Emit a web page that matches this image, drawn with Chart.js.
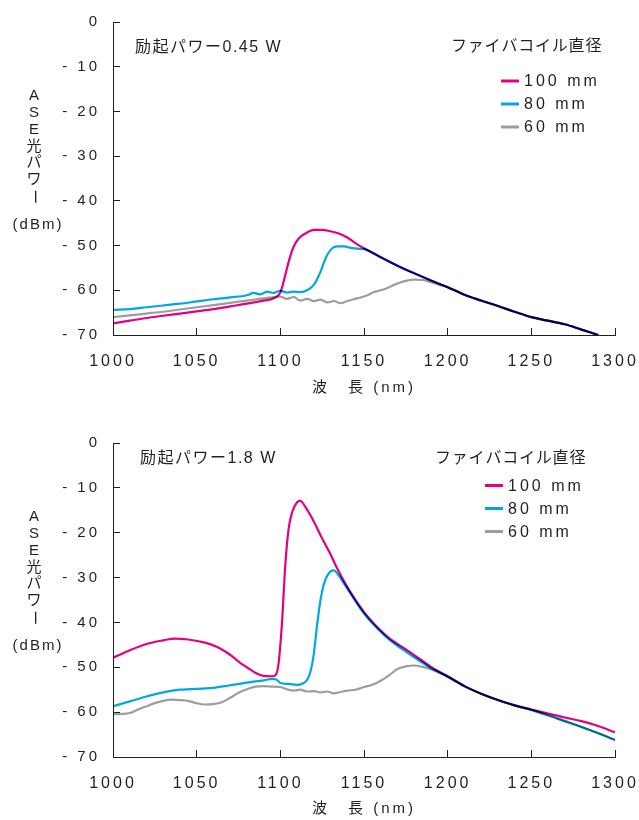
<!DOCTYPE html>
<html>
<head>
<meta charset="utf-8">
<script src="https://cdn.jsdelivr.net/npm/chart.js@4/dist/chart.umd.min.js"></script>
<style>
  html, body { margin: 0; padding: 0; background: #fff; overflow: hidden; }
  canvas { position: absolute; left: 0; }
  #chartTop { top: 0; }
  #chartBottom { top: 421px; }
</style>
</head>
<body>
<canvas id="chartTop" width="639" height="400"></canvas>
<canvas id="chartBottom" width="639" height="399"></canvas>
<script>
// Series names and colours
const seriesLabels = ['100 mm', '80 mm', '60 mm']
const seriesColors = ['#e5007f', '#00a6e6', '#9d9d9d']

// Pump power 0.45 W
const wlTop100 = [1000,1010,1020,1030,1040,1050,1060,1070,1080,1090,1096,1100,1102,1104,1106,1108,1111,1115,1120,1125,1130,1135,1140,1145,1150,1160,1170,1180,1190,1200,1210,1220,1230,1240,1250,1260,1270,1280,1290]
const dbTop100 = [-67.4,-66.8,-66.2,-65.7,-65.2,-64.7,-64.2,-63.6,-63.0,-62.3,-61.8,-60.5,-58.0,-55.0,-52.3,-50.2,-48.4,-47.3,-46.5,-46.5,-46.8,-47.3,-48.2,-49.5,-50.6,-52.6,-54.5,-56.2,-57.8,-59.3,-61.0,-62.3,-63.5,-64.8,-66.0,-66.8,-67.6,-68.8,-70.0]
const wlTop80 = [1000,1010,1020,1030,1040,1050,1060,1070,1080,1084,1088,1092,1096,1100,1104,1108,1112,1116,1120,1122,1124,1126,1128,1131,1134,1138,1142,1146,1150,1160,1170,1180,1190,1200,1210,1220,1230,1240,1250,1260,1270,1280,1290]
const dbTop80 = [-64.4,-64.2,-63.8,-63.4,-63.0,-62.5,-62.0,-61.6,-61.1,-60.6,-60.9,-60.3,-60.6,-60.1,-60.5,-60.3,-60.4,-60.0,-58.8,-57.5,-55.9,-53.8,-52.1,-50.6,-50.2,-50.2,-50.5,-50.7,-50.8,-52.6,-54.5,-56.2,-57.8,-59.3,-61.0,-62.3,-63.5,-64.8,-66.0,-66.8,-67.6,-68.8,-70.0]
const wlTop60 = [1000,1010,1020,1030,1040,1050,1060,1070,1080,1090,1100,1104,1108,1112,1116,1120,1124,1128,1132,1136,1140,1144,1148,1152,1156,1160,1165,1170,1175,1180,1185,1190,1195,1200,1210,1220,1230,1240,1250,1260,1270,1280,1290]
const dbTop60 = [-66.0,-65.6,-65.2,-64.8,-64.3,-63.8,-63.3,-62.8,-62.3,-61.8,-61.4,-61.9,-61.5,-62.3,-61.9,-62.4,-62.1,-62.7,-62.4,-62.9,-62.4,-62.0,-61.6,-61.1,-60.4,-60.0,-59.3,-58.5,-57.9,-57.6,-57.7,-58.2,-58.8,-59.3,-61.0,-62.3,-63.5,-64.8,-66.0,-66.8,-67.6,-68.8,-70.0]

// Pump power 1.8 W
const wlBot100 = [1000,1010,1020,1030,1037,1045,1055,1062,1068,1072,1076,1080,1085,1090,1095,1097,1099,1101,1103,1105,1107,1110,1112,1115,1120,1125,1130,1134,1138,1142,1146,1150,1155,1160,1165,1170,1175,1180,1185,1190,1195,1200,1210,1220,1230,1240,1250,1260,1270,1280,1290,1300]
const dbBot100 = [-47.9,-46.2,-44.8,-44.0,-43.6,-43.8,-44.5,-45.4,-46.7,-47.8,-49.0,-50.0,-51.2,-51.9,-52.0,-51.8,-49.0,-40.0,-27.0,-19.0,-15.5,-13.2,-12.9,-14.3,-17.5,-21.3,-24.8,-28.0,-30.8,-33.3,-35.6,-37.7,-39.9,-41.8,-43.5,-44.8,-46.0,-47.3,-48.6,-49.9,-51.0,-52.0,-54.2,-55.9,-57.3,-58.5,-59.4,-60.3,-61.2,-62.0,-63.1,-64.5]
const wlBot80 = [1000,1010,1020,1030,1040,1050,1060,1070,1080,1090,1095,1098,1100,1105,1110,1114,1116,1118,1120,1122,1124,1126,1128,1130,1132,1135,1138,1142,1146,1150,1155,1160,1165,1170,1175,1180,1185,1190,1195,1200,1210,1220,1230,1240,1250,1260,1270,1280,1290,1300]
const dbBot80 = [-58.7,-57.6,-56.5,-55.6,-55.0,-54.8,-54.6,-54.0,-53.4,-52.9,-52.6,-52.8,-53.5,-53.7,-53.9,-53.5,-52.8,-51.0,-47.0,-40.5,-35.0,-31.5,-29.6,-28.6,-28.4,-29.6,-31.3,-33.6,-35.9,-38.0,-40.2,-42.1,-43.8,-45.2,-46.5,-47.8,-49.0,-50.2,-51.2,-52.1,-54.2,-55.9,-57.3,-58.5,-59.5,-60.7,-62.0,-63.3,-64.7,-66.2]
const wlBot60 = [1000,1005,1010,1015,1020,1025,1030,1035,1040,1045,1050,1055,1060,1065,1070,1075,1080,1085,1090,1095,1100,1104,1108,1112,1116,1120,1124,1128,1132,1136,1140,1145,1150,1155,1160,1165,1170,1175,1180,1185,1190,1195,1200,1210,1220,1230,1240,1250,1260,1270,1280,1290,1300]
const dbBot60 = [-60.5,-60.4,-60.2,-59.4,-58.7,-58.0,-57.5,-57.2,-57.3,-57.5,-58.0,-58.3,-58.2,-57.8,-56.8,-55.7,-54.9,-54.3,-54.2,-54.3,-54.4,-54.9,-55.2,-55.0,-55.4,-55.3,-55.6,-55.4,-55.8,-55.5,-55.2,-55.0,-54.4,-53.9,-53.0,-51.8,-50.4,-49.8,-49.6,-49.9,-50.4,-51.1,-52.1,-54.2,-55.9,-57.3,-58.5,-59.5,-60.7,-62.0,-63.3,-64.7,-66.2]

// Axis ranges
const xMin = 1000, xMax = 1300, xStep = 50
const yMin = -70, yMax = 0, yStep = 10

const ink = '#231f20'
const latin = "'Liberation Sans', Arial, sans-serif"
const mixed = "'Liberation Sans', 'Noto Sans CJK JP', sans-serif"

const pts = (xs, ys) => xs.map((x, i) => ({ x: x, y: ys[i] }))

const makeChart = (id, series, power, lay) => {

    // Notes, legend and vertical y title drawn on top of the chart
    const notes = {
        id: 'notes',
        beforeDraw(chart) { chart.ctx.letterSpacing = '3px' },
        beforeDatasetsDraw(chart) {
            chart.ctx.save()
            chart.ctx.globalCompositeOperation = 'multiply'
        },
        afterDatasetsDraw(chart) { chart.ctx.restore() },
        afterDraw(chart) {
            const ctx = chart.ctx
            const top = chart.chartArea.top
            ctx.save()
            ctx.fillStyle = ink
            ctx.textBaseline = 'middle'
            ctx.textAlign = 'left'

            ctx.font = '16px ' + mixed
            ctx.letterSpacing = '1.5px'
            ctx.fillText(power, lay.noteX, top + lay.noteDy)

            ctx.font = "16px 'Noto Sans CJK JP', sans-serif"
            ctx.letterSpacing = '0.8px'
            ctx.fillText('ファイバコイル直径', lay.legX - 50, top + lay.legTitleDy)

            ctx.font = '16px ' + latin
            ctx.letterSpacing = '3px'
            chart.data.datasets.forEach((ds, i) => {
                const y = top + lay.legDy + i * 23
                ctx.strokeStyle = ds.borderColor
                ctx.lineWidth = 3
                ctx.beginPath()
                ctx.moveTo(lay.legX, y)
                ctx.lineTo(lay.legX + 18, y)
                ctx.stroke()
                ctx.fillText(ds.label, lay.legX + 23, y + 1)
            })

            // stacked y title
            ctx.letterSpacing = '0px'
            ctx.textAlign = 'center'
            ctx.font = '15px ' + mixed
            const chars = ['A', 'S', 'E', '光', 'パ', 'ワ', 'ー']
            chars.forEach((c, i) => {
                const y = top + 74 + i * 16.8
                if (c === 'ー') {
                    ctx.save()
                    ctx.translate(34, y)
                    ctx.rotate(Math.PI / 2)
                    ctx.fillText(c, 0, 0)
                    ctx.restore()
                } else {
                    ctx.fillText(c, 34, y)
                }
            })
            ctx.letterSpacing = '2px'
            ctx.fillText('(dBm)', 38, top + 203)
            ctx.restore()
        }
    }

    return new Chart(document.getElementById(id), {
        type: 'line',
        data: {
            datasets: series.map((s, i) => ({
                label: seriesLabels[i],
                data: s,
                borderColor: seriesColors[i],
                borderWidth: 2.2,
                pointRadius: 0,
                cubicInterpolationMode: 'monotone',
                fill: false
            }))
        },
        options: {
            responsive: false,
            animation: false,
            layout: { padding: { top: 22, right: 24, left: 0, bottom: 0 } },
            plugins: { legend: { display: false }, tooltip: { enabled: false } },
            scales: {
                x: {
                    type: 'linear',
                    min: xMin, max: xMax,
                    afterFit: s => {
                        s.height = lay.xh
                        s.paddingLeft = 0
                        s.paddingRight = 0
                    },
                    border: { color: ink, width: 1 },
                    grid: { drawOnChartArea: false, tickLength: -7, color: ink },
                    ticks: {
                        stepSize: xStep, padding: 24, maxRotation: 0, color: ink,
                        font: { family: latin, size: 16 },
                        callback: v => String(v)
                    },
                    title: {
                        display: true, text: '波　長 (nm)', color: ink,
                        font: { family: mixed, size: 15 },
                        padding: { top: 0, bottom: lay.titlePad }
                    }
                },
                y: {
                    min: yMin, max: yMax,
                    afterFit: s => {
                        s.width = 113
                        s.paddingTop = 0
                        s.paddingBottom = 0
                    },
                    border: { color: ink, width: 1 },
                    grid: { drawOnChartArea: false, tickLength: -7, color: ink },
                    ticks: {
                        stepSize: yStep, padding: 20, color: ink,
                        font: { family: latin, size: 15 },
                        callback: v => v === 0 ? '0' : '- ' + (-v)
                    }
                }
            }
        },
        plugins: [notes]
    })
}

makeChart('chartTop',
    [pts(wlTop100, dbTop100), pts(wlTop80, dbTop80), pts(wlTop60, dbTop60)],
    '励起パワー0.45 W',
    { xh: 65, titlePad: 3.5, noteX: 135, noteDy: 26, legX: 501, legTitleDy: 23, legDy: 59 })

makeChart('chartBottom',
    [pts(wlBot100, dbBot100), pts(wlBot80, dbBot80), pts(wlBot60, dbBot60)],
    '励起パワー1.8 W',
    { xh: 63, titlePad: 2, noteX: 140, noteDy: 16, legX: 485, legTitleDy: 13.5, legDy: 42.5 })
</script>
</body>
</html>
